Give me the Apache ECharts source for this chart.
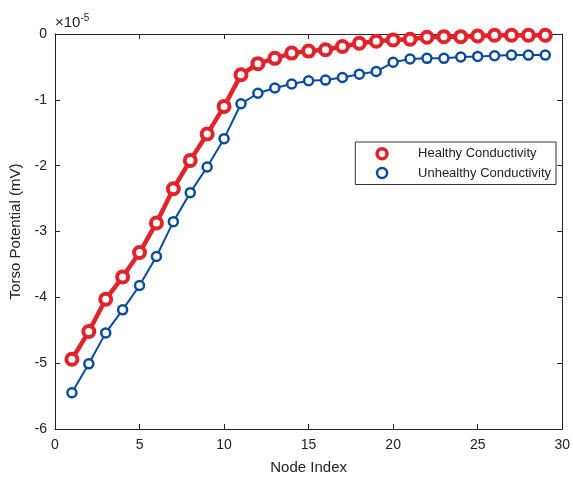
<!DOCTYPE html>
<html>
<head>
    <meta charset="utf-8">
    <title>Torso Potential</title>
    <script src="https://cdn.jsdelivr.net/npm/echarts@6/dist/echarts.min.js"></script>
    <style>
        html, body { margin: 0; padding: 0; background: #fff; }
        #main { width: 573px; height: 480px; }
    </style>
</head>
<body>
    <div id="main"></div>
    <script>
        // values in units of 1e-5 mV
        var nodes = [1,2,3,4,5,6,7,8,9,10,11,12,13,14,15,16,17,18,19,20,21,22,23,24,25,26,27,28,29];
        var healthy = [-4.94,-4.52,-4.03,-3.69,-3.32,-2.87,-2.35,-1.92,-1.52,-1.10,-0.62,-0.45,-0.37,-0.29,-0.26,-0.24,-0.19,-0.14,-0.11,-0.09,-0.08,-0.05,-0.04,-0.04,-0.03,-0.02,-0.02,-0.02,-0.02];
        var unhealthy = [-5.45,-5.01,-4.54,-4.19,-3.82,-3.38,-2.85,-2.41,-2.02,-1.59,-1.06,-0.90,-0.82,-0.76,-0.71,-0.70,-0.66,-0.61,-0.57,-0.43,-0.38,-0.37,-0.37,-0.35,-0.34,-0.33,-0.32,-0.32,-0.32];
        var xTicks = [0, 5, 10, 15, 20, 25, 30];
        var yTicks = [-6, -5, -4, -3, -2, -1, 0];

        var red = '#e2232b';
        var blue = '#0a4c9c';
        var font = 'Liberation Sans, Arial, sans-serif';

        function pairs(xs, ys) {
            return xs.map(function (x, i) { return [x, ys[i]]; });
        }

        var chart = echarts.init(document.getElementById('main'));
        var baseX = {
            type: 'value', min: xTicks[0], max: xTicks[xTicks.length - 1], interval: 5,
            axisLine: { show: true, onZero: false, lineStyle: { color: '#222', width: 1 } },
            axisTick: { show: true, inside: true, length: 5, lineStyle: { color: '#222' } },
            splitLine: { show: false }
        };
        var baseY = {
            type: 'value', min: yTicks[0], max: yTicks[yTicks.length - 1], interval: 1,
            axisLine: { show: true, onZero: false, lineStyle: { color: '#222', width: 1 } },
            axisTick: { show: true, inside: true, length: 5, lineStyle: { color: '#222' } },
            splitLine: { show: false }
        };

        var option = {
            animation: false,
            grid: { left: 55, right: 9, top: 34, bottom: 49 },
            xAxis: [
                Object.assign({}, baseX, {
                    position: 'bottom',
                    name: 'Node Index', nameLocation: 'middle', nameGap: 31,
                    nameTextStyle: { fontFamily: font, fontSize: 15, color: '#222' },
                    axisLabel: { fontFamily: font, fontSize: 14, color: '#222', margin: 9 }
                }),
                Object.assign({}, baseX, { position: 'top', axisLabel: { show: false } })
            ],
            yAxis: [
                Object.assign({}, baseY, {
                    position: 'left',
                    name: 'Torso Potential (mV)', nameLocation: 'middle', nameGap: 32,
                    nameTextStyle: { fontFamily: font, fontSize: 15, color: '#222' },
                    axisLabel: { fontFamily: font, fontSize: 14, color: '#222', margin: 8 }
                }),
                Object.assign({}, baseY, { position: 'right', axisLabel: { show: false } })
            ],
            legend: {
                right: 17, top: 142,
                orient: 'vertical',
                borderColor: '#333', borderWidth: 1, borderRadius: 0,
                backgroundColor: '#fff',
                padding: [5, 5, 5, 20],
                itemGap: 6,
                itemWidth: 10, itemHeight: 10,
                textStyle: { fontFamily: font, fontSize: 13, color: '#222', padding: [0, 0, 0, 26] },
                data: [
                    { name: 'Healthy Conductivity', icon: 'circle', itemStyle: { color: '#fff', borderColor: red, borderWidth: 3.5 } },
                    { name: 'Unhealthy Conductivity', icon: 'circle', itemStyle: { color: '#fff', borderColor: blue, borderWidth: 2.5 } }
                ]
            },
            graphic: [{
                type: 'text', left: 55, top: 13,
                style: {
                    text: '{a|×10}{b|-5}',
                    rich: {
                        a: { fontFamily: font, fontSize: 15, fill: '#222' },
                        b: { fontFamily: font, fontSize: 10, fill: '#222', verticalAlign: 'top', padding: [0, 0, 9, 0] }
                    }
                }
            }],
            series: [
                {
                    name: 'Unhealthy Conductivity', type: 'line',
                    data: pairs(nodes, unhealthy),
                    symbol: 'circle', symbolSize: 9,
                    lineStyle: { color: blue, width: 2 },
                    itemStyle: { color: '#fff', borderColor: blue, borderWidth: 2.5 },
                    z: 2
                },
                {
                    name: 'Healthy Conductivity', type: 'line',
                    data: pairs(nodes, healthy),
                    symbol: 'circle', symbolSize: 11,
                    lineStyle: { color: red, width: 4.5 },
                    itemStyle: { color: '#fff', borderColor: red, borderWidth: 4 },
                    z: 3
                }
            ]
        };
        chart.setOption(option);
    </script>
</body>
</html>
